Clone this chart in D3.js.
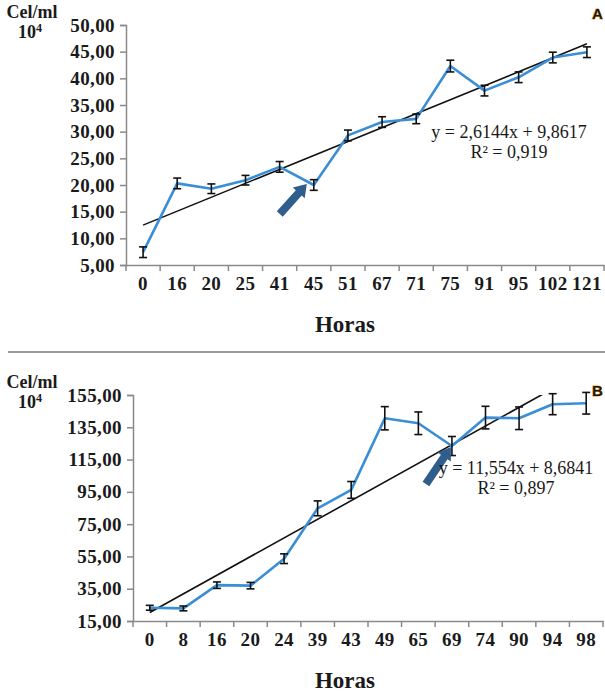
<!DOCTYPE html>
<html>
<head>
<meta charset="utf-8">
<script src="https://cdn.jsdelivr.net/npm/d3@7"></script>
<style>
  body { margin: 0; background: #fff; }
  text { font-family: "Liberation Serif", "Times New Roman", serif; fill: #1a1a1a; }
</style>
</head>
<body>
<svg id="chart" width="605" height="692"></svg>
<script>
// panel A
var horasA = ["0", "16", "20", "25", "41", "45", "51", "67", "71", "75", "91", "95", "102", "121"];
var celA = [7.4, 20.3, 19.3, 20.9, 23.4, 20.0, 29.3, 31.8, 32.4, 42.3, 37.7, 40.2, 43.9, 44.9];
var errA = [1.0, 1.0, 0.9, 0.9, 1.0, 1.0, 1.0, 1.0, 0.9, 1.1, 1.0, 1.0, 1.0, 1.0];
var yTicksA = [5, 10, 15, 20, 25, 30, 35, 40, 45, 50];
var trendA = [2.6144, 9.8617];
var eqA = ["y = 2,6144x + 9,8617", "R² = 0,919"];

// panel B
var horasB = ["0", "8", "16", "20", "24", "39", "43", "49", "65", "69", "74", "90", "94", "98"];
var celB = [23.2, 22.8, 37.2, 36.9, 53.6, 84.8, 96.2, 140.6, 137.5, 123.4, 141.0, 140.6, 149.3, 149.9];
var errB = [1.5, 1.5, 2.0, 2.0, 3.0, 4.6, 5.2, 7.2, 7.0, 5.9, 7.0, 7.0, 6.5, 6.7];
var yTicksB = [15, 35, 55, 75, 95, 115, 135, 155];
var trendB = [11.554, 8.6841];
var eqB = ["y = 11,554x + 8,6841", "R² = 0,897"];

var svg = d3.select("#chart");
var locale = d3.formatLocale({decimal: ",", thousands: ".", grouping: [3], currency: ["", ""]});
var fmt = locale.format(".2f");

var lineBlue = "rgb(58,142,214)";
var arrowBlue = "#2f5d8c";
var axisGray = "#8a8a8a";

var arrowPath = function(tx, ty, hx, hy) {
  var dx = hx - tx, dy = hy - ty;
  var len = Math.sqrt(dx * dx + dy * dy);
  var ux = dx / len, uy = dy / len;
  var px = -uy, py = ux;
  var sw = 4, hw = 8, hl = 12;
  var bx = hx - ux * hl, by = hy - uy * hl;
  var pts = [
    [tx + px * sw, ty + py * sw],
    [bx + px * sw, by + py * sw],
    [bx + px * hw, by + py * hw],
    [hx, hy],
    [bx - px * hw, by - py * hw],
    [bx - px * sw, by - py * sw],
    [tx - px * sw, ty - py * sw]
  ];
  return "M" + pts.map(function(p){ return p[0] + "," + p[1]; }).join("L") + "Z";
};

var styleTicks = function(sel) {
  sel.attr("font-size", 19).attr("font-weight", "bold").attr("letter-spacing", 0.4)
    .attr("font-family", "Liberation Serif, serif").attr("fill", "#1a1a1a");
};

var drawPanel = function(p) {
  var g = svg.append("g");
  var x = d3.scaleBand().domain(p.cats).range([p.left, p.right]);
  var y = d3.scaleLinear().domain([p.yTicks[0], p.yTicks[p.yTicks.length - 1]]).range([p.bottom, p.top]);
  var cx = function(i){ return x(p.cats[i]) + x.bandwidth() / 2; };

  // y axis
  var yAxis = g.append("g")
    .attr("transform", "translate(" + p.left + ",0)")
    .call(d3.axisLeft(y).tickValues(p.yTicks).tickFormat(fmt).tickSize(6).tickPadding(5));
  yAxis.select(".domain").attr("stroke", axisGray).attr("stroke-width", 1.5);
  yAxis.selectAll(".tick line").attr("stroke", axisGray).attr("stroke-width", 1.5);
  styleTicks(yAxis.selectAll("text"));

  // x axis: ticks at the band edges, labels at the centres
  var xAxis = g.append("g")
    .attr("transform", "translate(0," + p.bottom + ")")
    .call(d3.axisBottom(x).tickSize(0).tickPadding(12));
  xAxis.select(".domain").attr("stroke", axisGray).attr("stroke-width", 1.5);
  styleTicks(xAxis.selectAll("text"));
  var edges = p.cats.map(function(c){ return x(c); }).concat([x(p.cats[p.cats.length - 1]) + x.bandwidth()]);
  xAxis.selectAll(".edge").data(edges).enter().append("line")
    .attr("x1", function(d){ return d; }).attr("x2", function(d){ return d; })
    .attr("y1", 0).attr("y2", 6)
    .attr("stroke", axisGray).attr("stroke-width", 1.5);

  // trend line, clipped to plot area
  var clipId = "clip" + p.name;
  g.append("clipPath").attr("id", clipId).append("rect")
    .attr("x", p.left).attr("y", p.top).attr("width", p.right - p.left).attr("height", p.bottom - p.top);
  var n = p.cats.length;
  g.append("line")
    .attr("clip-path", "url(#" + clipId + ")")
    .attr("x1", cx(0)).attr("y1", y(p.trend[0] * 1 + p.trend[1]))
    .attr("x2", cx(n - 1)).attr("y2", y(p.trend[0] * n + p.trend[1]))
    .attr("stroke", "#111").attr("stroke-width", 1.6);

  // data line
  var line = d3.line().x(function(d, i){ return cx(i); }).y(function(d){ return y(d); });
  g.append("path").datum(p.values)
    .attr("d", line).attr("fill", "none")
    .attr("stroke", lineBlue).attr("stroke-width", 2.6).attr("stroke-linejoin", "round");

  // error bars
  var eb = g.selectAll(".err").data(p.values).enter().append("g").attr("class", "err");
  eb.append("line")
    .attr("x1", function(d, i){ return cx(i); }).attr("x2", function(d, i){ return cx(i); })
    .attr("y1", function(d, i){ return y(d - p.err[i]); }).attr("y2", function(d, i){ return y(d + p.err[i]); })
    .attr("stroke", "#111").attr("stroke-width", 1.6);
  [-1, 1].forEach(function(s) {
    eb.append("line")
      .attr("x1", function(d, i){ return cx(i) - 4; }).attr("x2", function(d, i){ return cx(i) + 4; })
      .attr("y1", function(d, i){ return y(d + s * p.err[i]); }).attr("y2", function(d, i){ return y(d + s * p.err[i]); })
      .attr("stroke", "#111").attr("stroke-width", 1.6);
  });

  // arrow pointing at the marked sample
  var ai = p.arrowAt;
  var hx = cx(ai) + p.arrowHead[0], hy = y(p.values[ai]) + p.arrowHead[1];
  g.append("path")
    .attr("d", arrowPath(hx + p.arrowTail[0], hy + p.arrowTail[1], hx, hy))
    .attr("fill", arrowBlue);

  // equation
  g.append("text").attr("x", p.eqX).attr("y", p.eqY).attr("text-anchor", "middle")
    .attr("font-size", 18).text(p.eq[0]);
  g.append("text").attr("x", p.eqX).attr("y", p.eqY + 20).attr("text-anchor", "middle")
    .attr("font-size", 18).text(p.eq[1]);

  // y unit label
  g.append("text").attr("x", 32).attr("y", p.top - 7).attr("text-anchor", "middle")
    .attr("font-size", 18).attr("font-weight", "bold").text("Cel/ml");
  var u = g.append("text").attr("x", 18).attr("y", p.top + 13)
    .attr("font-size", 18).attr("font-weight", "bold");
  u.append("tspan").text("10");
  u.append("tspan").attr("dy", -6).attr("font-size", 12).text("4");

  // x title
  g.append("text").attr("x", p.titleX).attr("y", p.bottom + 67).attr("text-anchor", "middle")
    .attr("font-size", 23).attr("font-weight", "bold").text("Horas");

  // panel letter
  g.append("text").attr("x", p.letterX).attr("y", p.letterY)
    .style("font-family", "Liberation Sans, Arial, sans-serif")
    .attr("font-size", 15).attr("font-weight", "bold")
    .attr("stroke", "#f0a020").attr("stroke-width", 1).attr("paint-order", "stroke")
    .attr("fill", "#111").text(p.name);
};

drawPanel({
  name: "A", cats: horasA, values: celA, err: errA, yTicks: yTicksA, trend: trendA, eq: eqA,
  left: 126, right: 604, top: 25, bottom: 265,
  eqX: 509, eqY: 138, titleX: 345, letterX: 592, letterY: 19,
  arrowAt: 5, arrowHead: [-7, -1], arrowTail: [-27, 30]
});

// separator between the panels
svg.append("line").attr("x1", 8).attr("x2", 605).attr("y1", 352).attr("y2", 352)
  .attr("stroke", "#999").attr("stroke-width", 2);

drawPanel({
  name: "B", cats: horasB, values: celB, err: errB, yTicks: yTicksB, trend: trendB, eq: eqB,
  left: 133, right: 603, top: 395, bottom: 621,
  eqX: 516, eqY: 474, titleX: 345, letterX: 592, letterY: 396,
  arrowAt: 9, arrowHead: [-1, 1], arrowTail: [-25, 37]
});
</script>
</body>
</html>
